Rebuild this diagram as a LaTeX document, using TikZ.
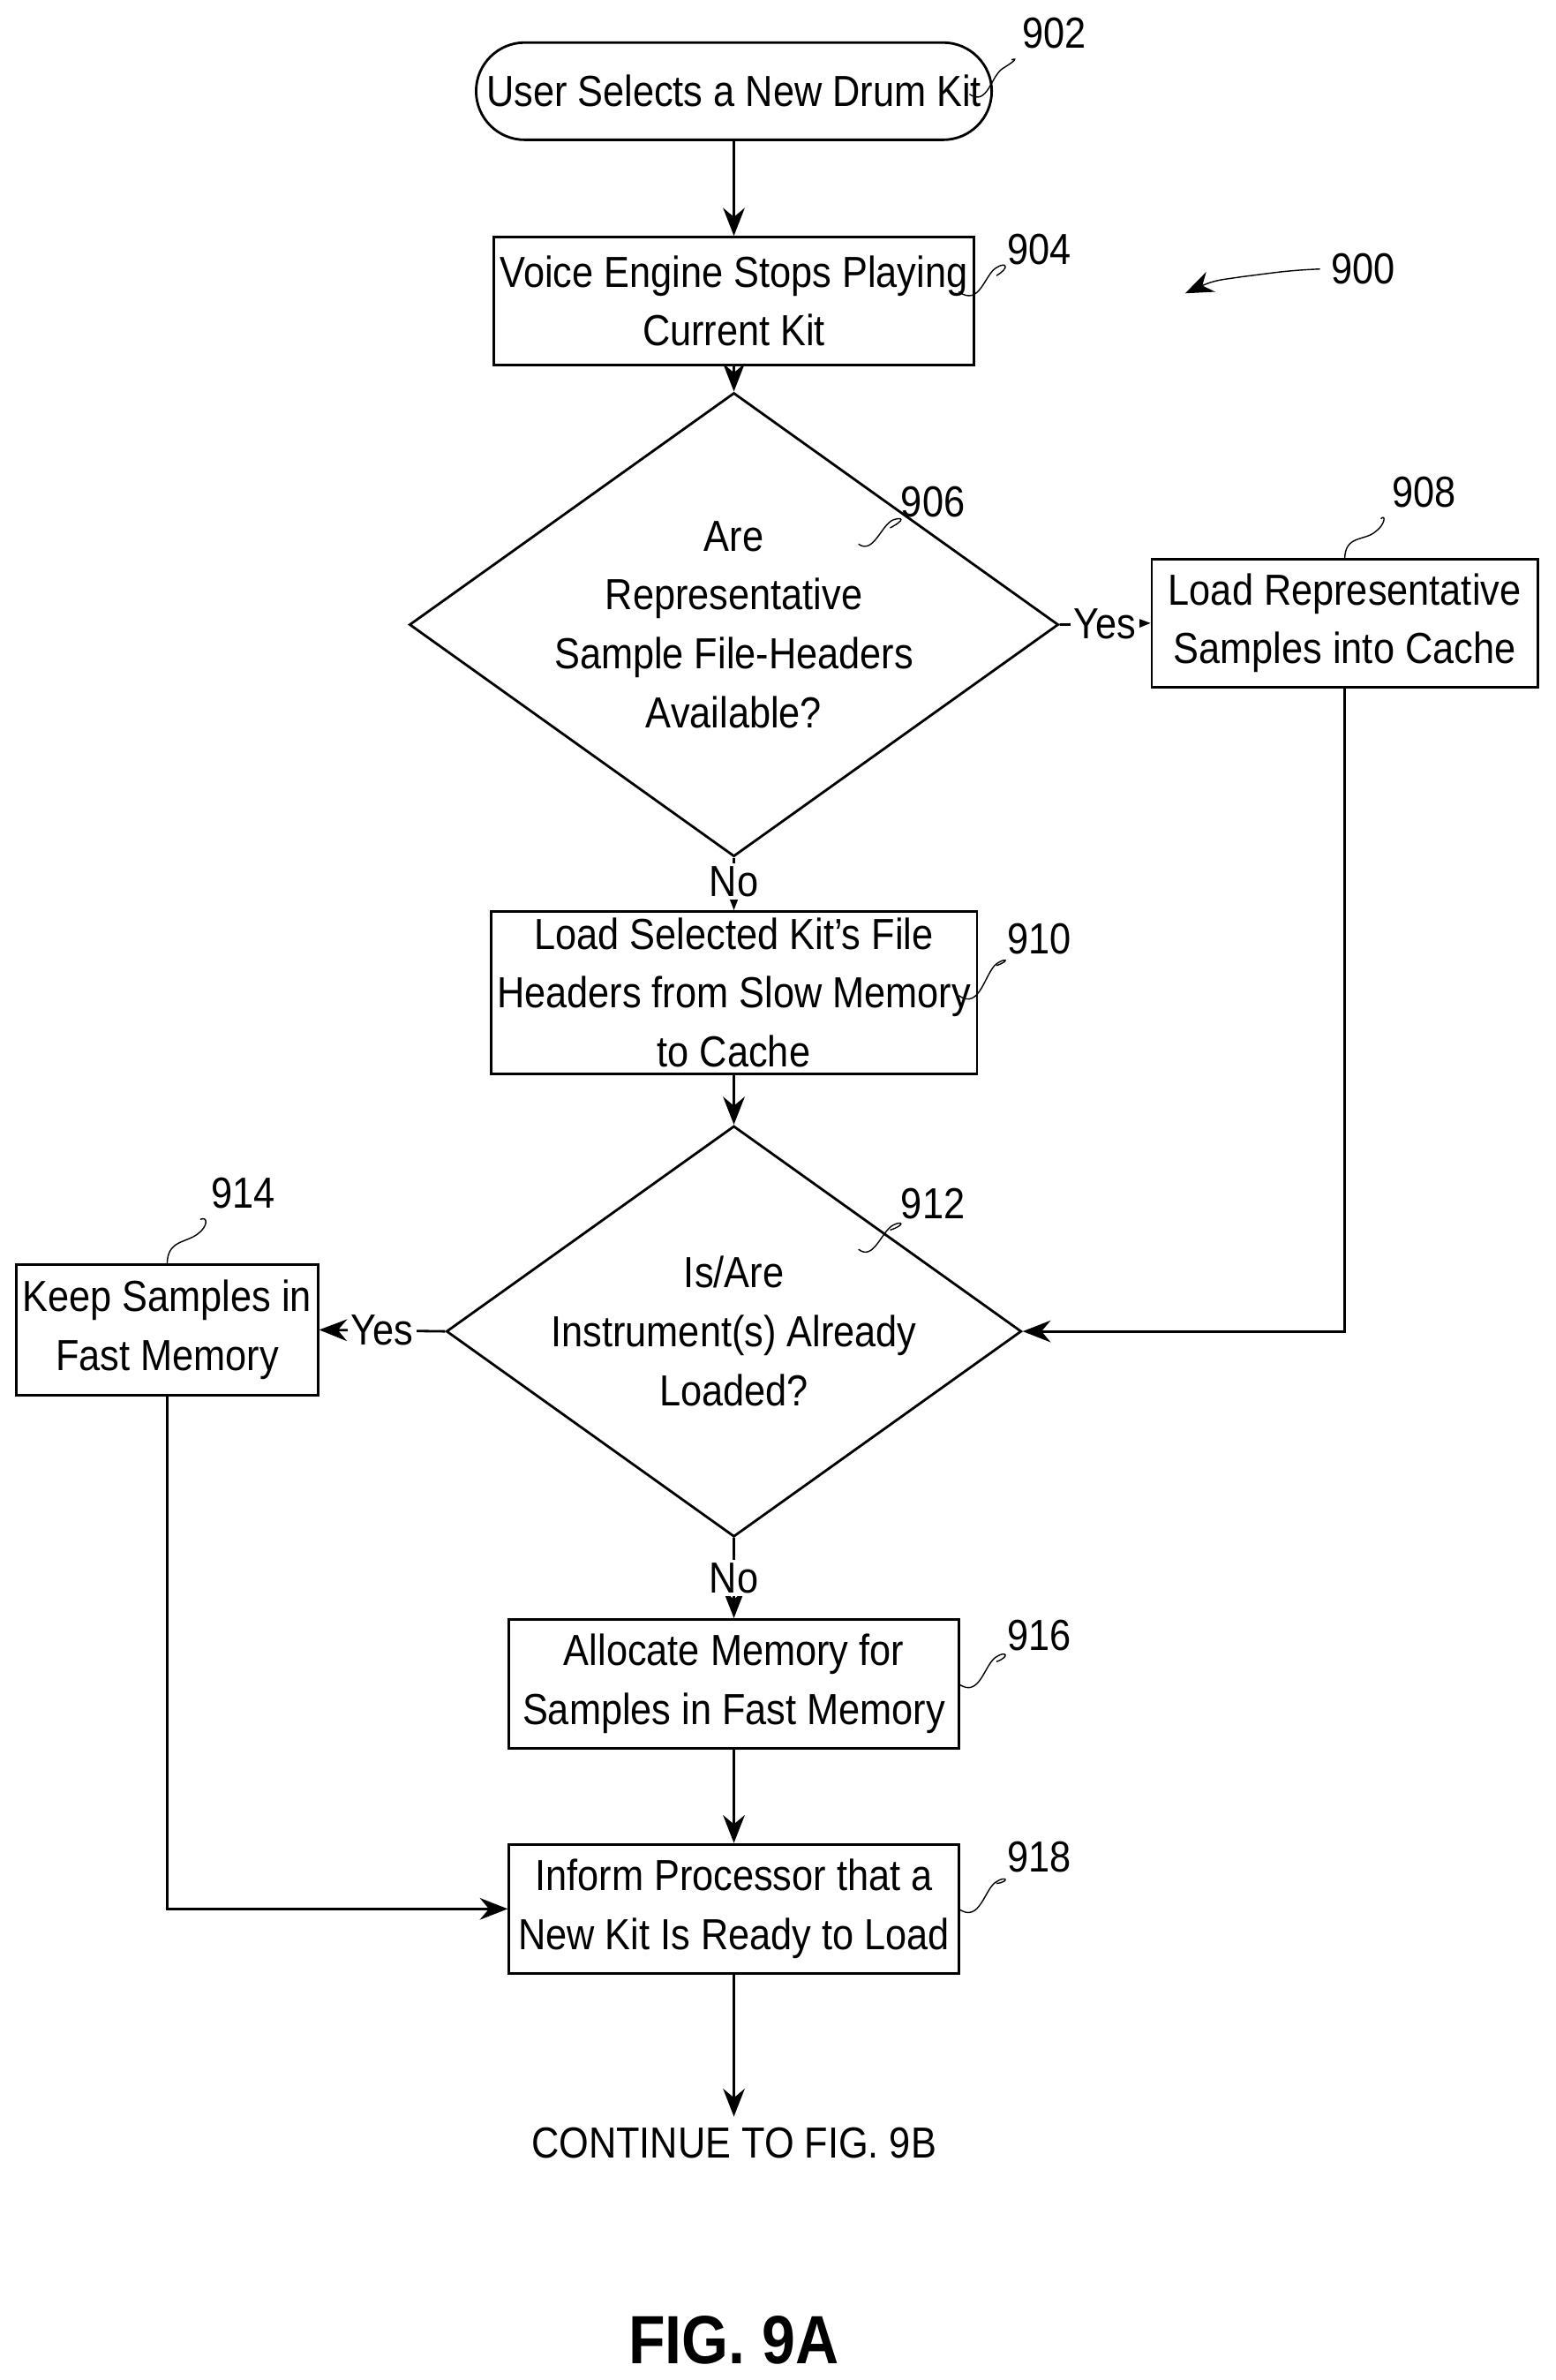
\documentclass[tikz,border=0pt]{standalone}
\usepackage{fontspec}
\setmainfont{Liberation Sans}[FakeStretch=0.88]
\usetikzlibrary{shapes.geometric,arrows.meta}

\tikzset{
  box/.style={draw, thick, minimum width=296*0.017217cm, align=center, inner sep=2pt},
  decision/.style={diamond, draw, thick, aspect=1.4, minimum width=296*0.017217cm, minimum height=212*0.017217cm, align=center, inner sep=0pt},
  line/.style={thick, -{Stealth[length=9pt,width=7pt]}},
  tag/.style={font=\fontsize{14}{16}\selectfont},
  squig/.style={thin},
}

\begin{document}
\begin{tikzpicture}[x=0.017217cm, y=-0.017217cm, font=\fontsize{14}{19}\selectfont]
  \useasboundingbox (0,0) rectangle (1024,1566);
  % Nodes
  \node[draw, thick, rounded corners=32*0.017217cm, minimum width=313*0.017217cm, minimum height=64*0.017217cm] (n902) at (483,60) {User Selects a New Drum Kit};
  \node[box, minimum height=84*0.017217cm] (n904) at (483,198) {Voice Engine Stops Playing\\Current Kit};
  \node[decision] (n906) at (483,411) {Are\\Representative\\Sample File-Headers\\Available?};
  \node[box, minimum width=254*0.017217cm, minimum height=84*0.017217cm] (n908) at (885,410) {Load Representative\\Samples into Cache};
  \node[box, minimum height=106*0.017217cm] (n910) at (483,653) {Load Selected Kit's File\\Headers from Slow Memory\\to Cache};
  \node[decision] (n912) at (483,876) {Is/Are\\Instrument(s) Already\\Loaded?};
  \node[box, minimum width=196*0.017217cm, minimum height=86*0.017217cm] (n914) at (110,875) {Keep Samples in\\Fast Memory};
  \node[box, minimum height=85*0.017217cm] (n916) at (483,1108) {Allocate Memory for\\Samples in Fast Memory};
  \node[box, minimum height=85*0.017217cm] (n918) at (483,1256) {Inform Processor that a\\New Kit Is Ready to Load};
  \node (cont) at (483,1410) {CONTINUE TO FIG. 9B};
  \node[font=\fontsize{22}{26}\selectfont\bfseries] (fig) at (483,1540) {FIG. 9A};
  % Connectors
  \draw[line] (n902) -- (n904);
  \draw[line] (n904) -- (n906);
  \draw[line] (n906.east) -- node[fill=white, inner sep=1pt] {Yes} (n908.west);
  \draw[line] (n906.south) -- node[fill=white, inner sep=1pt, pos=0.45] {No} (n910.north);
  \draw[line] (n910) -- (n912);
  \draw[line] (n908.south) |- (n912.east);
  \draw[line] (n912.west) -- node[fill=white, inner sep=1pt] {Yes} (n914.east);
  \draw[line] (n912.south) -- node[fill=white, inner sep=1pt, pos=0.5] {No} (n916.north);
  \draw[line] (n916) -- (n918);
  \draw[line] (n914.south) |- (n918.west);
  \draw[line] (n918.south) -- (cont.north);
  % Reference numerals
  \node[tag] (t902) at (694,22) {902};
  \node[tag] (t904) at (684,164) {904};
  \node[tag] (t906) at (614,330) {906};
  \node[tag] (t908) at (937,324) {908};
  \node[tag] (t910) at (684,618) {910};
  \node[tag] (t912) at (614,792) {912};
  \node[tag] (t914) at (160,785) {914};
  \node[tag] (t916) at (684,1076) {916};
  \node[tag] (t918) at (684,1222) {918};
  \node[tag] (t900) at (897,177) {900};
  \draw[squig] (638,62) .. controls (650,70) and (652,50) .. (660,45) .. controls (668,40) and (670,38) .. (t902.south west);
  \draw[squig] (631,192) .. controls (645,202) and (648,180) .. (656,176) .. controls (662,172) and (665,176) .. (t904.south west);
  \draw[squig] (565,358) .. controls (575,365) and (580,345) .. (588,342) .. controls (594,340) and (596,342) .. (t906.south west);
  \draw[squig] (885,368) .. controls (885,352) and (898,356) .. (905,350) .. controls (912,345) and (912,338) .. (t908.south west);
  \draw[squig] (631,655) .. controls (645,665) and (648,640) .. (656,634) .. controls (662,630) and (665,632) .. (t910.south west);
  \draw[squig] (565,822) .. controls (575,830) and (580,810) .. (588,806) .. controls (594,803) and (596,806) .. (t912.south west);
  \draw[squig] (110,832) .. controls (110,816) and (122,818) .. (130,812) .. controls (137,807) and (137,800) .. (t914.south west);
  \draw[squig] (631,1108) .. controls (645,1118) and (648,1094) .. (656,1090) .. controls (662,1086) and (665,1090) .. (t916.south west);
  \draw[squig] (631,1256) .. controls (645,1266) and (648,1242) .. (656,1238) .. controls (662,1234) and (665,1238) .. (t918.south west);
  \coordinate (a900) at (780,193);
  \draw[thin, -{Stealth[length=9pt,width=7pt]}] (t900.west) .. controls (845,178) and (835,180) .. (818,182) .. controls (805,184) and (800,184) .. (a900);
\end{tikzpicture}
\end{document}
